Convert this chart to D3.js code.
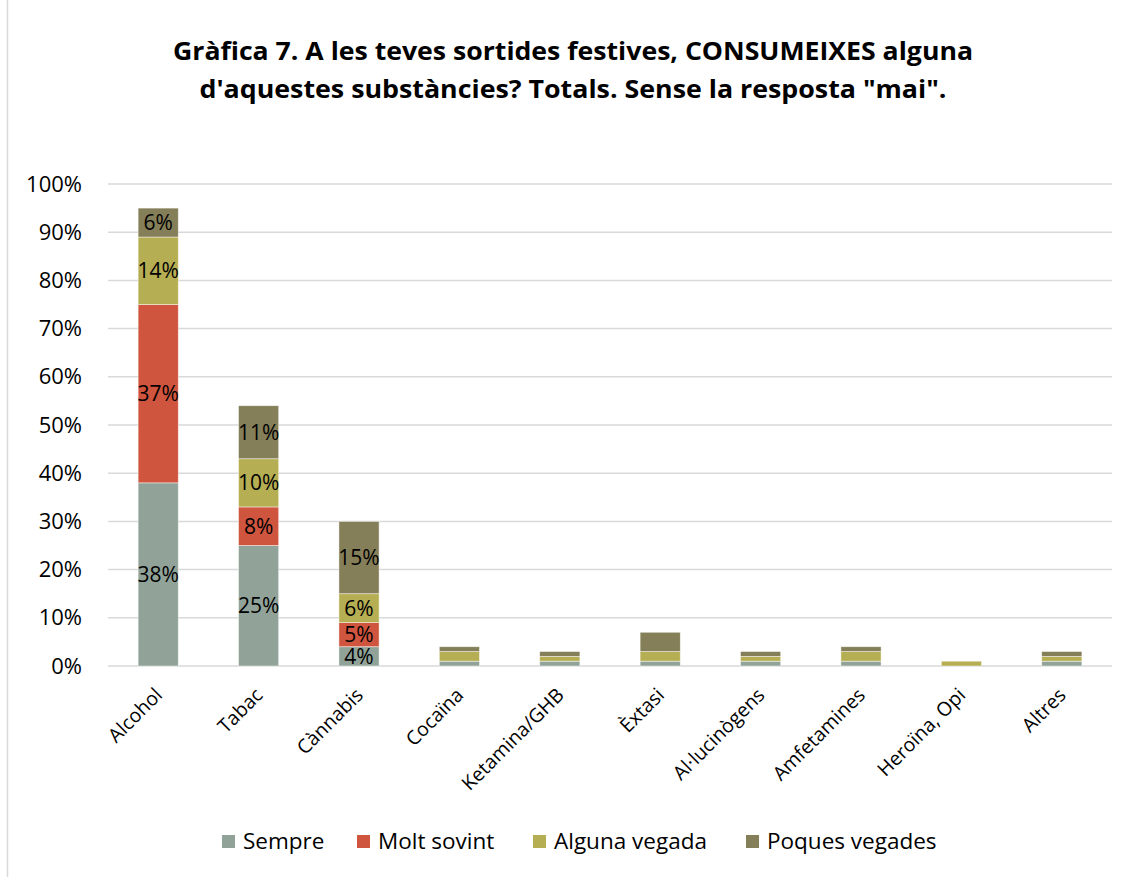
<!DOCTYPE html>
<html><head><meta charset="utf-8">
<script src="https://cdn.jsdelivr.net/npm/d3@7"></script>
<style>body{margin:0;background:#fff}svg{display:block}text{font-family:"Open Sans",sans-serif}</style>
</head><body><svg id="c" width="1130" height="877"></svg>
<script>
const categories = ["Alcohol","Tabac","Cànnabis","Cocaïna","Ketamina/GHB","Èxtasi","Al·lucinògens","Amfetamines","Heroïna, Opi","Altres"];
const seriesNames = ["Sempre","Molt sovint","Alguna vegada","Poques vegades"];
const sempre        = [38,25,4,1,1,1,1,1,0,1];
const moltSovint    = [37,8,5,0,0,0,0,0,0,0];
const algunaVegada  = [14,10,6,2,1,2,1,2,1,1];
const poquesVegades = [6,11,15,1,1,4,1,1,0,1];
const colors = ["#91a398","#d0553f","#b6ae53","#857f59"];
const yTicks = [0,10,20,30,40,50,60,70,80,90,100];
const labelledCount = 3;

const svg = d3.select("#c");
svg.append("line").attr("x1",7.5).attr("x2",7.5).attr("y1",0).attr("y2",877).attr("stroke","#d9d9d9").attr("stroke-width",1.5);

const x = d3.scaleBand().domain(categories).range([108,1112]).paddingInner(0.6).paddingOuter(0.3);
const y = d3.scaleLinear().domain([0,100]).range([666,184]);

// title
const title = svg.append("text").attr("text-anchor","middle").attr("font-weight","bold").attr("font-size",25).attr("fill","#000");
title.append("tspan").attr("x",573).attr("y",60).attr("textLength",800).attr("lengthAdjust","spacingAndGlyphs").text("Gràfica 7. A les teves sortides festives, CONSUMEIXES alguna");
title.append("tspan").attr("x",573).attr("y",98).attr("textLength",747).attr("lengthAdjust","spacingAndGlyphs").text("d'aquestes substàncies? Totals. Sense la resposta \"mai\".");

// grid
svg.append("g").selectAll("line").data(yTicks).join("line")
  .attr("x1",108).attr("x2",1112).attr("y1",d=>y(d)).attr("y2",d=>y(d))
  .attr("stroke","#d9d9d9").attr("stroke-width",1.5);

// y axis
const yAxis = d3.axisLeft(y).tickValues(yTicks).tickFormat(d=>d+"%").tickSize(0).tickPadding(0);
const yg = svg.append("g").attr("transform","translate(82,0)").call(yAxis);
yg.select(".domain").remove();
yg.selectAll("text").attr("font-size",22).attr("fill","#000").attr("font-family","Open Sans, sans-serif");

// stacked data
const rows = categories.map((c,i)=>({cat:c, "Sempre":sempre[i], "Molt sovint":moltSovint[i], "Alguna vegada":algunaVegada[i], "Poques vegades":poquesVegades[i]}));
const stack = d3.stack().keys(seriesNames)(rows);

const layers = svg.append("g").selectAll("g").data(stack).join("g").attr("fill",(d,i)=>colors[i]);
layers.selectAll("rect").data(d=>d).join("rect")
  .attr("x",d=>x(d.data.cat)).attr("width",x.bandwidth())
  .attr("y",d=>y(d[1])).attr("height",d=>y(d[0])-y(d[1]))
  .attr("stroke",d=>d[1]-d[0]>0?"#ffffff":"none").attr("stroke-opacity",0.6).attr("stroke-width",0.75);

// labels for the first three categories
stack.forEach((s)=>{
  s.forEach((d,ci)=>{
    if(ci<labelledCount){
      const v = d[1]-d[0];
      svg.append("text").attr("x",x(d.data.cat)+x.bandwidth()/2).attr("y",(y(d[0])+y(d[1]))/2)
        .attr("dy","0.36em").attr("text-anchor","middle").attr("font-size",21).attr("fill","#000")
        .text(v+"%");
    }
  });
});

// x axis labels
svg.append("g").selectAll("text").data(categories).join("text")
  .attr("transform",d=>`translate(${x(d)+x.bandwidth()/2-5},686) rotate(-45)`)
  .attr("text-anchor","end").attr("dy","0.75em").attr("font-size",19.5).attr("fill","#000").text(d=>d);

// legend
const legX = [222,357,533,746];
const lg = svg.append("g").selectAll("g").data(seriesNames).join("g").attr("transform",(d,i)=>`translate(${legX[i]},835)`);
lg.append("rect").attr("width",13).attr("height",13).attr("fill",(d,i)=>colors[i]);
lg.append("text").attr("x",21).attr("y",14).attr("font-size",22.5).attr("fill","#000").text(d=>d);
</script></body></html>
